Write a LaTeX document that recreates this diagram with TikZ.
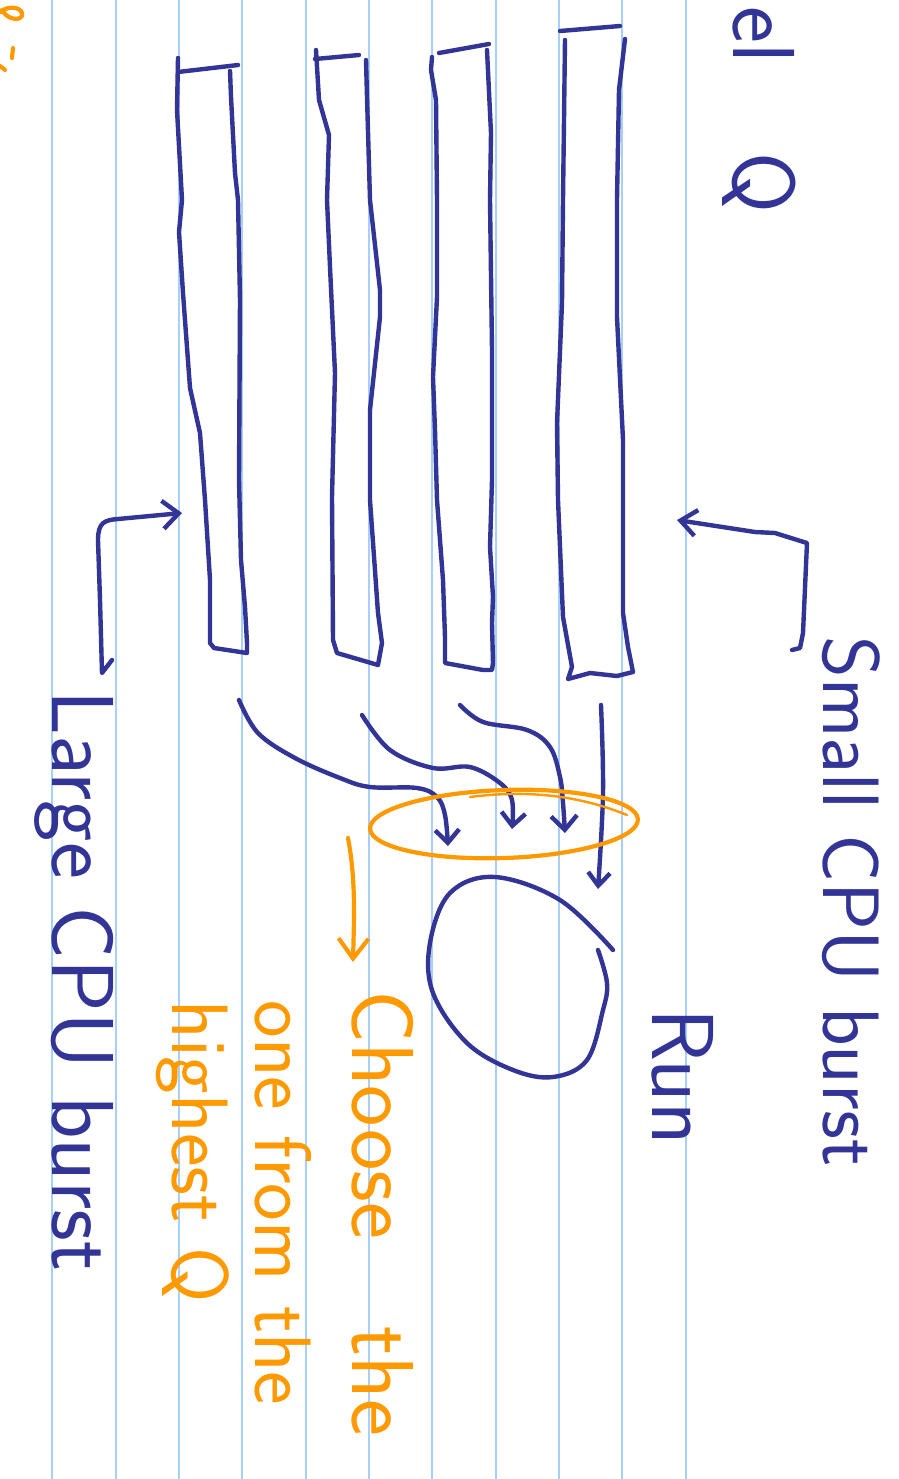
\documentclass[tikz,border=0pt]{standalone}
\usepackage{fontspec}
\usetikzlibrary{arrows.meta}
\definecolor{ink}{RGB}{50,52,150}
\definecolor{hilite}{RGB}{255,153,0}
\definecolor{ruling}{RGB}{168,206,250}
\begin{document}
\begin{tikzpicture}[x=0.5pt,y=-0.5pt,
  inkline/.style={draw=ink, line width=2.2pt, line cap=round, line join=round},
  orangeline/.style={draw=hilite, line width=2.1pt, line cap=round, line join=round},
  barb/.style 2 args={-{Straight Barb[length=#1, width=#2]}},
  note/.style={rotate=-90, anchor=base west, inner sep=0pt,
    font=\sffamily\fontsize{40}{44}\selectfont},
  bigger/.style={font=\sffamily\fontsize{44}{48}\selectfont},
]
% page
\fill[white] (0,0) rectangle (899,1479);
\useasboundingbox (0,0) rectangle (899,1479);
\clip (0,0) rectangle (899,1479);

% ruled paper
\foreach \k in {0,...,10}
  \draw[ruling, line width=1pt] ({52.3+63.35*\k},0) -- ({52.3+63.35*\k},1479);

% ---- four queues drawn as tall bars ----
% bar A (lowest priority)
\draw[inkline] (178,72) -- (238,65);
\draw[inkline] (178,58) -- (177,110) -- (182,200) -- (179,232) -- (183,293)
  -- (190,388) -- (200,433) -- (205,500) -- (210,580) -- (210,643) -- (214,648)
  -- (247,653) -- (247,643) -- (245,607) -- (241,560) -- (239,480) -- (240,300)
  -- (238,200) -- (235,173) -- (231,97) -- (230,71);
% bar B
\draw[inkline] (315,59) -- (359,55);
\draw[inkline] (316,50) -- (319,100) -- (329,135) -- (327,200) -- (330,267)
  -- (335,373) -- (332,497) -- (333,640) -- (337,653) -- (378,665) -- (382,643)
  -- (378,613) -- (370,500) -- (370,410) -- (380,317) -- (380,290) -- (370,200)
  -- (367,97) -- (366,60);
% bar C
\draw[inkline] (439,53) -- (489,44);
\draw[inkline] (432,57) -- (431,70) -- (436,100) -- (437,200) -- (437,297)
  -- (433,377) -- (435,430) -- (437,500) -- (443,580) -- (445,637) -- (445,663)
  -- (483,670) -- (492,670) -- (493,663) -- (492,623) -- (493,597) -- (490,547)
  -- (492,480) -- (492,350) -- (490,200) -- (491,133) -- (487,50);
% bar D (highest priority)
\draw[inkline] (560,31) -- (620,26);
\draw[inkline] (565,40) -- (563,200) -- (562,303) -- (557,423) -- (558,500)
  -- (563,617) -- (572,667) -- (568,679) -- (590,673) -- (617,676) -- (633,672)
  -- (628,647) -- (623,613) -- (623,440) -- (617,317) -- (617,200) -- (619,90)
  -- (625,39);

% ---- anchor points ----
\coordinate (smallTail) at (792,650);
\coordinate (smallTip)  at (677,520);
\coordinate (largeTail) at (112,660);
\coordinate (largeTip)  at (182,513);
\coordinate (outA) at (239,700);
\coordinate (outB) at (362,715);
\coordinate (outC) at (460,705);
\coordinate (outD) at (601,705);
\coordinate (inA) at (448,846);
\coordinate (inB) at (512,829);
\coordinate (inC) at (565,833);
\coordinate (inD) at (598,889);
\coordinate (pickTail) at (348,838);
\coordinate (pickTip)  at (353,962);

% ---- labels ----
\node[note, text=ink] (small) at (823,636) {Small CPU burst};
\node[note, bigger, text=ink] (run) at (652,1008) {Run};
\node[note, bigger, text=ink] (large) at (52,690) {Large CPU burst};
\node[note, bigger, text=ink] (level) at (733,6) {el\hspace{31pt} Q};
\node[note, bigger, text=hilite] (choose) at (352,990) {Choose\hspace{30pt} the};
\node[note, text=hilite] (onefrom) at (255,1000) {one from the};
\node[note, text=hilite] (highest) at (172,1000) {highest Q};

% ---- bracket arrows for burst lengths ----
\draw[inkline, barb={8pt}{13pt}] (smallTail) -- (800,648) -- (803,633) -- (807,543)
  -- (775,533) -- (755,532) -- (smallTip);
\draw[inkline, barb={8pt}{14pt}] (largeTail) -- (102,673) -- (100,600) -- (98,540)
  .. controls (98,522) and (105,520) .. (118,519) -- (largeTip);

% ---- arrows from each queue toward the selector ----
\draw[inkline, barb={6.5pt}{12pt}] plot[smooth, tension=0.6] coordinates
  {(outA) (258,733) (295,758) (340,778) (370,787) (417,788) (437,797) (445,815) (inA)};
\draw[inkline, barb={6.5pt}{12pt}] plot[smooth, tension=0.6] coordinates
  {(outB) (390,750) (433,768) (470,767) (500,783) (512,800) (inB)};
\draw[inkline, barb={7pt}{13pt}] plot[smooth, tension=0.6] coordinates
  {(outC) (483,722) (527,730) (550,747) (560,777) (563,803) (inC)};
\draw[inkline, barb={6.5pt}{11pt}] plot[smooth, tension=0.6] coordinates
  {(outD) (603,793) (inD)};

% ---- selector ring ----
\draw[orangeline] (504,824) circle [x radius=134, y radius=34, rotate=2];
\draw[orangeline, line width=1.2pt] (470,797) .. controls (540,788) and (590,800) .. (627,815);
\draw[orangeline, barb={10pt}{15pt}] (pickTail) .. controls (356,880) and (354,920) .. (pickTip);

% ---- running process ----
\draw[inkline] plot[smooth, tension=0.6] coordinates
  {(613,950) (560,900) (495,877) (450,893) (430,943) (433,993) (467,1043)
   (513,1070) (553,1077) (587,1060) (603,1010) (607,983) (598,950)};

% ---- orange stroke at the page edge ----
\draw[orangeline] (0,12) .. controls (10,4) and (24,8) .. (22,16)
  .. controls (18,22) and (6,18) .. (2,10);
\draw[orangeline] (13,48) -- (12,58);
\draw[orangeline] (0,66) -- (5,70);
\end{tikzpicture}
\end{document}
